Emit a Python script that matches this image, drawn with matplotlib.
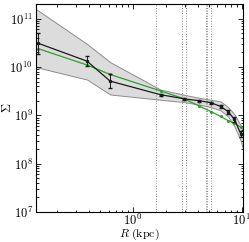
import numpy as np
import matplotlib
matplotlib.use("Agg")
import matplotlib.pyplot as plt
from matplotlib.ticker import FuncFormatter

plt.rcParams["mathtext.fontset"] = "cm"
plt.rcParams["font.family"] = "serif"
plt.rcParams["font.serif"] = ["DejaVu Serif"]
plt.rcParams["font.size"] = 8.5

# radial bins (kpc)
r = [0.135, 0.38, 0.62, 1.8, 2.95, 4.1, 5.2, 6.4, 7.5, 8.6, 9.8]
# measured surface density + errors
sigma = [3.1e10, 1.32e10, 5.1e9, 2.67e9, 2.2e9, 2.0e9, 1.83e9, 1.53e9, 1.2e9, 8.2e8, 4.2e8]
err_lo = [1.2e10, 2.5e9, 1.4e9, 1.2e8, 1.0e8, 1.0e8, 1.0e8, 1.0e8, 1.2e8, 1.0e8, 6e7]
err_hi = [2.0e10, 4.0e9, 1.9e9, 1.2e8, 1.0e8, 1.0e8, 1.0e8, 1.0e8, 1.2e8, 1.0e8, 6e7]
# model curve
model = [2.4e10, 1.1e10, 7.0e9, 3.2e9, 2.2e9, 1.55e9, 1.2e9, 9.5e8, 7.8e8, 6.8e8, 5.7e8]
# shaded envelope
band_r = [0.128, 0.38, 0.62, 1.8, 2.95, 4.1, 5.2, 6.4, 7.5, 8.6, 9.8, 10.3]
band_lo = [1.0e10, 5.5e9, 2.7e9, 2.1e9, 1.88e9, 1.66e9, 1.48e9, 1.27e9, 9.5e8, 5.9e8, 3.0e8, 2.0e8]
band_hi = [1.6e11, 3.0e10, 1.26e10, 3.4e9, 2.67e9, 2.3e9, 2.1e9, 1.94e9, 1.48e9, 1.05e9, 6.2e8, 4.5e8]
# vertical markers
vlines = [1.65, 2.83, 3.11, 4.72, 4.85, 5.27]

fig = plt.figure(figsize=(2.49, 2.42), dpi=100)
ax = fig.add_axes([0.143, 0.124, 0.833, 0.859])

ax.fill_between(band_r, band_lo, band_hi, facecolor="#dcdcdc", edgecolor="#8c8c8c", lw=0.7)
for xv in vlines:
    ax.axvline(xv, color="#888888", ls=":", lw=0.7)
ax.plot(r, model, color="#2ca02c", lw=0.9, marker="o", ms=1.2)
ax.errorbar(r, sigma, yerr=[err_lo, err_hi], color="#1a1a1a", lw=0.9,
            marker="o", ms=1.5, capsize=1.5, elinewidth=0.7)

ax.set_xscale("log")
ax.set_yscale("log")
ax.set_xlim(0.128, 10.3)
ax.set_ylim(1e7, 2e11)
pow_fmt = FuncFormatter(lambda v, pos: r"$10^{%d}$" % round(np.log10(v)))
ax.xaxis.set_major_formatter(pow_fmt)
ax.yaxis.set_major_formatter(pow_fmt)
ax.set_xlabel(r"$R\ \mathrm{(kpc)}$", fontsize=8.5)
ax.set_ylabel(r"$\Sigma$", fontsize=9)
ax.xaxis.set_label_coords(0.5, -0.072)
ax.yaxis.set_label_coords(-0.105, 0.5)
ax.tick_params(which="both", direction="in", top=True, right=True, width=0.6, labelsize=9)
ax.tick_params(which="major", length=3.5, pad=2)
ax.tick_params(axis="x", which="major", pad=0.5)
ax.tick_params(which="minor", length=1.8)
for s in ax.spines.values():
    s.set_linewidth(0.8)

fig.savefig("out.png", dpi=100)
